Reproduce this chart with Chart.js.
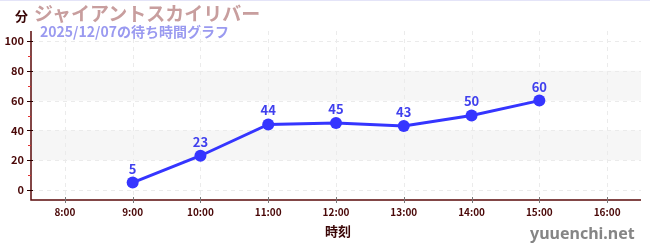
<!DOCTYPE html>
<html><head><meta charset="utf-8">
<script src="https://cdn.jsdelivr.net/npm/chart.js@4"></script>
<style>
html,body{margin:0;padding:0;background:#fff;}
#wrap{position:relative;width:650px;height:250px;overflow:hidden;}
#wrap:before{content:"";position:absolute;left:0;top:0;width:650px;height:1px;background:#e4e4f8;}
canvas{position:absolute;left:0;top:0;}
.t{position:absolute;white-space:nowrap;font-family:"Noto Sans CJK JP","Noto Sans",sans-serif;font-weight:bold;line-height:1;}
</style></head>
<body><div id="wrap">
<canvas id="c" width="650" height="250"></canvas>
<div class="t" style="left:15px;top:9px;font-size:13px;color:#3a0606;">分</div>
<div class="t" style="left:34px;top:3px;font-size:19px;color:#c89e9e;">ジャイアントスカイリバー</div>
<div class="t" style="left:40px;top:24px;font-size:14px;color:#9a9af0;">2025/12/07の待ち時間グラフ</div>
<div class="t" style="left:325px;top:224px;font-size:13px;color:#3a0606;">時刻</div>
<div class="t" style="left:530px;top:225px;font-size:16px;color:#858585;font-family:'Noto Sans',sans-serif;">yuuenchi.net</div>
</div>
<script>
const categories = ["8:00","9:00","10:00","11:00","12:00","13:00","14:00","15:00","16:00"];
const waitTimes = [null,5,23,44,45,43,50,60,null];
const yTicks = [0,20,40,60,80,100];
const yMinorTicks = [10,30,50,70,90];
const bands = [[20,40],[60,80]];

const deco = {
  id:'deco',
  beforeDatasetsDraw(chart){
    const {ctx, chartArea:a, scales:{x,y}} = chart;
    ctx.save();
    ctx.fillStyle = '#f6f6f6';
    bands.forEach(([lo,hi])=>{
      const y1 = y.getPixelForValue(hi), y2 = y.getPixelForValue(lo);
      ctx.fillRect(a.left, y1, a.right-a.left, y2-y1);
    });
    ctx.strokeStyle = '#ebebeb'; ctx.lineWidth = 1; ctx.setLineDash([4,4]);
    yTicks.forEach(v=>{
      const py = Math.round(y.getPixelForValue(v))+0.5;
      ctx.beginPath(); ctx.moveTo(a.left, py); ctx.lineTo(a.right, py); ctx.stroke();
    });
    categories.forEach((c,i)=>{
      const px = Math.round(x.getPixelForValue(i))+0.5;
      ctx.beginPath(); ctx.moveTo(px, a.top); ctx.lineTo(px, a.bottom); ctx.stroke();
    });
    ctx.setLineDash([]);
    ctx.strokeStyle = '#5a0a0a'; ctx.lineWidth = 1.5;
    ctx.beginPath(); ctx.moveTo(a.left, a.top); ctx.lineTo(a.left, a.bottom); ctx.lineTo(a.right, a.bottom); ctx.stroke();
    ctx.lineWidth = 1;
    ctx.strokeStyle = '#2a0000';
    yTicks.forEach(v=>{
      const py = Math.round(y.getPixelForValue(v))+0.5;
      ctx.beginPath(); ctx.moveTo(a.left-4, py); ctx.lineTo(a.left+2, py); ctx.stroke();
    });
    ctx.strokeStyle = '#e03030';
    yMinorTicks.forEach(v=>{
      const py = Math.round(y.getPixelForValue(v))+0.5;
      ctx.beginPath(); ctx.moveTo(a.left-3, py); ctx.lineTo(a.left, py); ctx.stroke();
    });
    ctx.strokeStyle = '#777';
    categories.forEach((c,i)=>{
      const px = Math.round(x.getPixelForValue(i))+0.5;
      ctx.beginPath(); ctx.moveTo(px, a.bottom-3); ctx.lineTo(px, a.bottom+3); ctx.stroke();
    });
    ctx.restore();
  },
  afterDatasetsDraw(chart){
    const {ctx} = chart;
    const meta = chart.getDatasetMeta(0);
    ctx.save();
    ctx.font = 'bold 13px "Noto Sans CJK JP","Noto Sans",sans-serif';
    ctx.fillStyle = '#4040ee';
    ctx.textAlign = 'center'; ctx.textBaseline = 'middle';
    meta.data.forEach((pt,i)=>{
      const v = waitTimes[i];
      if (v === null) return;
      ctx.fillText(String(v), pt.x, pt.y-14);
    });
    ctx.restore();
  }
};

new Chart(document.getElementById('c'), {
  type:'line',
  data:{labels:categories, datasets:[{
    data:waitTimes, borderColor:'#3535ff', backgroundColor:'#3535ff',
    borderWidth:3, pointRadius:6, pointHoverRadius:6, pointBackgroundColor:'#3535ff',
    pointBorderWidth:0, spanGaps:false, tension:0
  }]},
  options:{
    responsive:false, animation:false,
    layout:{padding:{top:31,right:9,left:0,bottom:0}},
    plugins:{legend:{display:false}, tooltip:{enabled:false}},
    scales:{
      x:{
        offset:true,
        grid:{display:false, drawTicks:false},
        border:{display:false},
        ticks:{padding:6, color:'#4a0808', font:{family:'"Noto Sans CJK JP","Noto Sans",sans-serif', size:10, weight:'bold'}, maxRotation:0},
        afterFit(s){ s.height = 50; }
      },
      y:{
        min:-6.7, max:106.7,
        grid:{display:false, drawTicks:false},
        border:{display:false},
        afterBuildTicks(s){ s.ticks = yTicks.map(v=>({value:v})); },
        ticks:{padding:7, color:'#4a0808', font:{family:'"Noto Sans CJK JP","Noto Sans",sans-serif', size:11, weight:'bold'}},
        afterFit(s){ s.width = 31; }
      }
    }
  },
  plugins:[deco]
});
</script></body></html>
